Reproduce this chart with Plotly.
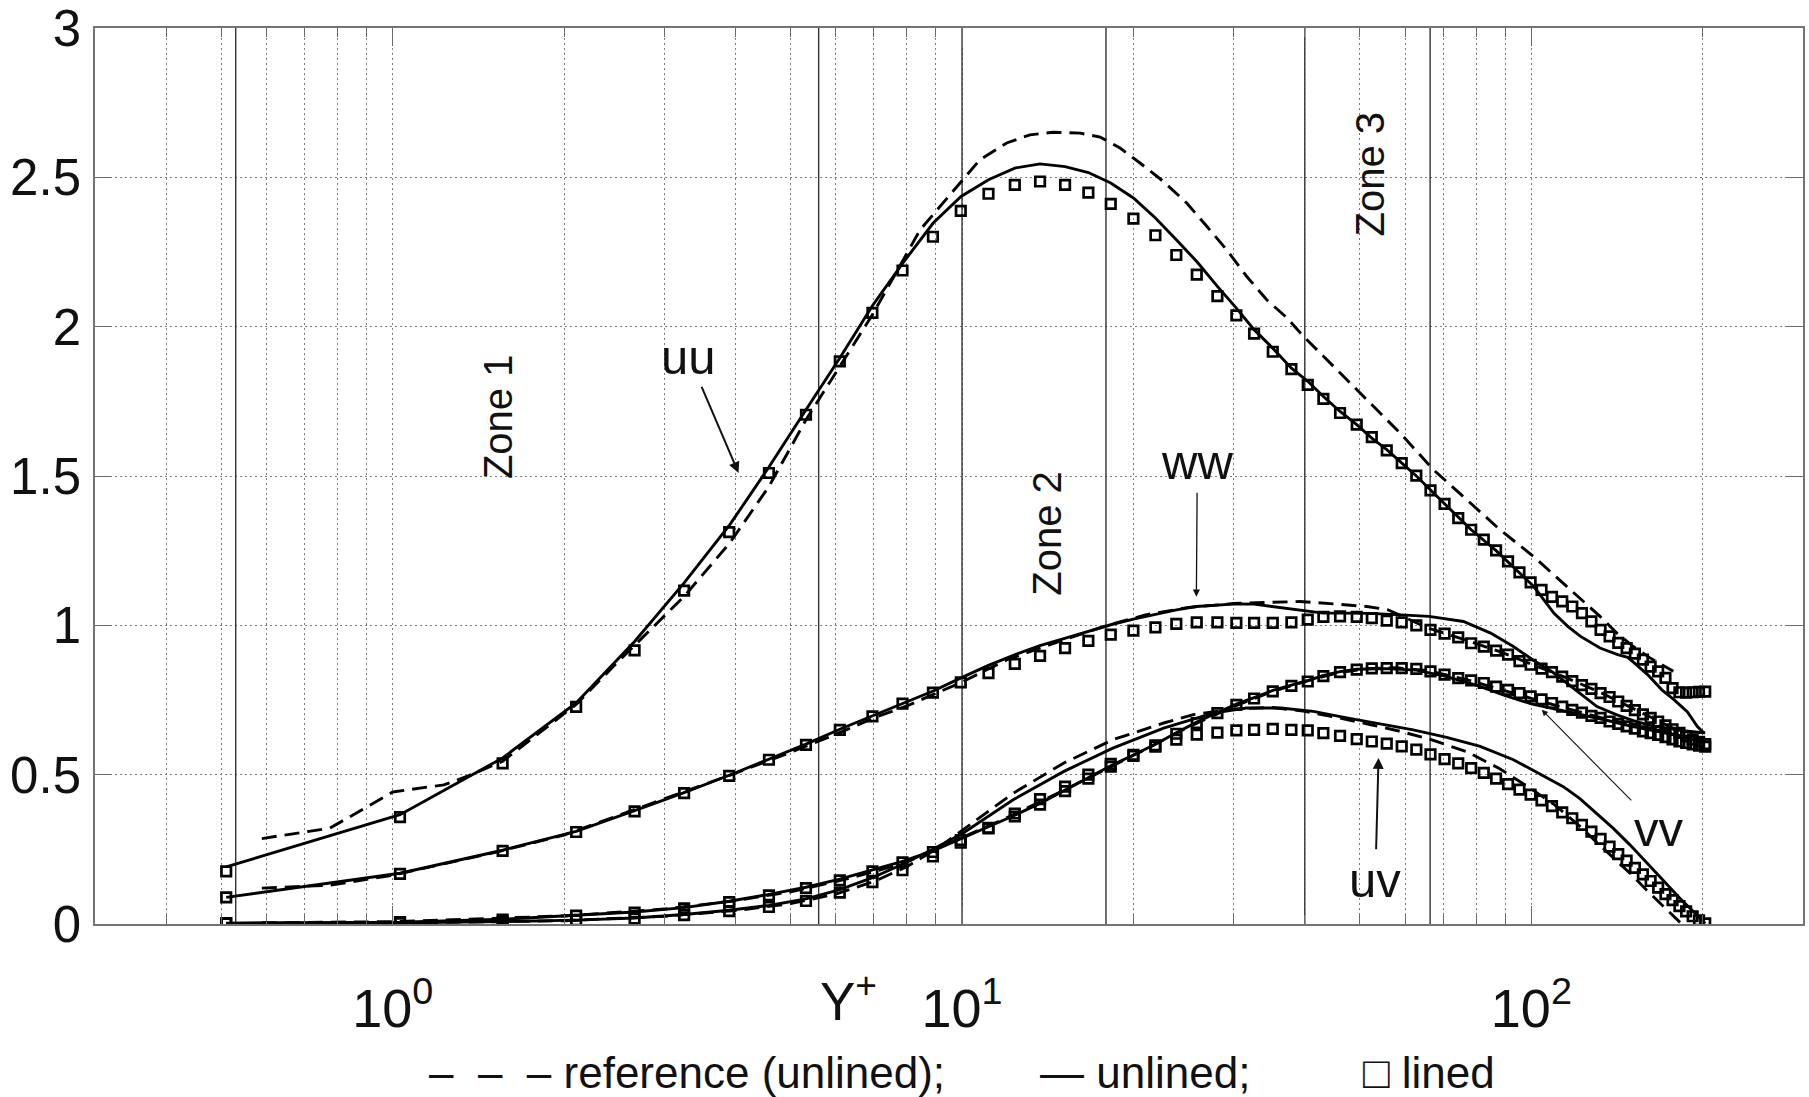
import math
import plotly.graph_objects as go

# ---------------------------------------------------------------------------
# Reynolds-stress profiles in wall units: reference DNS (unlined), unlined
# and lined cases.  rms of u, v, w and the shear stress -uv against y+.
# ---------------------------------------------------------------------------

# grid of the lined case (also drawn as the symbol positions)
yplus_lined = [0.51, 1.03, 1.56, 2.10, 2.66, 3.25, 3.90, 4.58, 5.32, 6.10,
               6.96, 7.86, 8.89, 9.95, 11.13, 12.38, 13.71, 15.17, 16.67, 18.25,
               20.0, 21.86, 23.79, 25.84, 28.09, 30.33, 32.58, 35.14, 37.89, 40.48,
               43.12, 46.13, 49.35, 52.45, 55.72, 59.2, 62.8, 66.5, 70.4, 74.4,
               78.4, 82.5, 86.7, 91.0, 95.3, 99.7, 104.2, 108.7, 113.3, 118.0,
               122.7, 127.5, 132.3, 137.2, 142.1, 147.0, 152.0, 157.0, 162.0, 167.0,
               172.0, 177.0, 182.0, 187.0, 192.0, 197.0, 202.0]

uu_lined = [0.176, 0.358, 0.538, 0.727, 0.916, 1.116, 1.312, 1.510, 1.705, 1.884,
            2.046, 2.188, 2.301, 2.388, 2.445, 2.475, 2.486, 2.475, 2.449, 2.411,
            2.362, 2.306, 2.240, 2.174, 2.102, 2.038, 1.977, 1.916, 1.858, 1.805,
            1.758, 1.711, 1.672, 1.630, 1.586, 1.543, 1.501, 1.452, 1.407, 1.359,
            1.320, 1.287, 1.251, 1.214, 1.177, 1.144, 1.119, 1.095, 1.080, 1.063,
            1.041, 1.013, 0.985, 0.963, 0.941, 0.924, 0.905, 0.885, 0.862, 0.846,
            0.824, 0.790, 0.776, 0.775, 0.776, 0.777, 0.778]

ww_lined = [0.089, 0.168, 0.245, 0.308, 0.377, 0.438, 0.496, 0.550, 0.600, 0.650,
            0.695, 0.738, 0.775, 0.809, 0.840, 0.871, 0.898, 0.924, 0.948, 0.969,
            0.982, 0.993, 1.005, 1.010, 1.010, 1.008, 1.008, 1.008, 1.010, 1.019,
            1.028, 1.030, 1.028, 1.024, 1.016, 1.010, 1.000, 0.985, 0.972, 0.960,
            0.940, 0.929, 0.915, 0.902, 0.880, 0.868, 0.855, 0.843, 0.828, 0.813,
            0.800, 0.787, 0.773, 0.760, 0.745, 0.730, 0.716, 0.702, 0.690, 0.678,
            0.665, 0.652, 0.640, 0.628, 0.618, 0.610, 0.602]

vv_lined = [0.003, 0.006, 0.015, 0.028, 0.038, 0.052, 0.073, 0.096, 0.120, 0.146,
            0.176, 0.206, 0.241, 0.281, 0.322, 0.360, 0.400, 0.445, 0.487, 0.527,
            0.563, 0.598, 0.637, 0.673, 0.706, 0.734, 0.755, 0.779, 0.797, 0.812,
            0.830, 0.843, 0.852, 0.856, 0.857, 0.857, 0.854, 0.846, 0.835, 0.823,
            0.816, 0.807, 0.795, 0.784, 0.773, 0.762, 0.752, 0.740, 0.728, 0.717,
            0.708, 0.697, 0.690, 0.678, 0.670, 0.662, 0.654, 0.645, 0.639, 0.633,
            0.626, 0.618, 0.611, 0.606, 0.601, 0.597, 0.594]

uv_lined = [0.002, 0.003, 0.007, 0.012, 0.018, 0.030, 0.043, 0.057, 0.077, 0.105,
            0.140, 0.180, 0.226, 0.272, 0.320, 0.370, 0.418, 0.460, 0.500, 0.536,
            0.566, 0.594, 0.617, 0.634, 0.641, 0.648, 0.650, 0.653, 0.650, 0.648,
            0.639, 0.630, 0.619, 0.611, 0.604, 0.595, 0.584, 0.568, 0.552, 0.538,
            0.522, 0.506, 0.487, 0.468, 0.450, 0.433, 0.414, 0.395, 0.374, 0.354,
            0.332, 0.309, 0.285, 0.259, 0.234, 0.212, 0.188, 0.166, 0.144, 0.122,
            0.100, 0.080, 0.060, 0.042, 0.026, 0.012, 0.002]

# unlined case (solid lines)
uu_unlined_y = [0.51, 1.03, 1.56, 2.10, 2.66, 3.25, 3.91, 4.58, 5.32, 6.10,
                6.96, 7.87, 8.90, 9.96, 11.13, 12.38, 13.71, 15.17, 16.67, 18.25,
                20.0, 21.86, 23.79, 25.84, 28.09, 30.33, 32.58, 35.14, 37.89, 40.48,
                43.12, 46.13, 49.35, 52.45, 55.72, 62.8, 70.4, 78.4, 86.7, 95.3,
                101.0, 109.5, 116.0, 122.0, 132.0, 141.8, 147.6, 151.6, 160.0, 169.5,
                178.0, 188.0, 195.7, 201.0]
uu_unlined = [0.191, 0.366, 0.556, 0.740, 0.946, 1.142, 1.337, 1.530, 1.722, 1.895,
              2.070, 2.213, 2.347, 2.436, 2.492, 2.531, 2.545, 2.536, 2.516, 2.481,
              2.431, 2.364, 2.291, 2.218, 2.135, 2.062, 1.990, 1.928, 1.861, 1.817,
              1.766, 1.716, 1.672, 1.627, 1.588, 1.500, 1.407, 1.320, 1.250, 1.175,
              1.130, 1.041, 0.996, 0.963, 0.924, 0.902, 0.893, 0.874, 0.835, 0.784,
              0.751, 0.710, 0.661, 0.639]

ww_unlined_y = [0.51, 1.03, 1.56, 2.10, 2.66, 3.25, 3.90, 4.58, 5.32, 6.10,
                6.96, 7.87, 8.90, 9.96, 11.1, 12.4, 13.7, 15.2, 16.7, 18.25,
                20.0, 21.9, 23.8, 25.8, 28.1, 30.3, 32.6, 35.1, 37.9, 40.5,
                43.1, 46.1, 52.0, 58.0, 66.1, 76.0, 84.8, 93.0, 100.8, 109.2,
                115.4, 122.0, 130.4, 141.3, 151.1, 161.6, 172.8, 184.7, 197.6, 202.0]
ww_unlined = [0.089, 0.170, 0.247, 0.310, 0.380, 0.440, 0.498, 0.552, 0.602, 0.652,
              0.697, 0.738, 0.780, 0.824, 0.865, 0.902, 0.932, 0.957, 0.980, 1.002,
              1.021, 1.038, 1.052, 1.063, 1.069, 1.072, 1.071, 1.063, 1.055, 1.047,
              1.041, 1.041, 1.040, 1.036, 1.030, 1.013, 0.974, 0.929, 0.883, 0.842,
              0.807, 0.771, 0.728, 0.700, 0.681, 0.665, 0.656, 0.647, 0.641, 0.640]

vv_unlined_y = [0.51, 1.03, 1.56, 2.10, 2.66, 3.25, 3.90, 4.58, 5.32, 6.10,
                6.96, 7.86, 8.89, 9.95, 11.13, 12.38, 13.71, 15.17, 16.67, 18.25,
                20.0, 21.86, 23.79, 25.84, 28.09, 30.33, 32.58, 35.14, 37.89, 40.48,
                43.12, 46.13, 49.35, 55.72, 62.8, 70.4, 80.0, 90.0, 100.0, 110.0,
                120.0, 135.0, 150.0, 165.0, 180.0, 195.0, 202.0]
vv_unlined = [0.003, 0.006, 0.016, 0.029, 0.040, 0.055, 0.076, 0.099, 0.123, 0.150,
              0.180, 0.210, 0.245, 0.285, 0.325, 0.364, 0.404, 0.448, 0.490, 0.530,
              0.566, 0.602, 0.640, 0.676, 0.708, 0.736, 0.758, 0.782, 0.800, 0.815,
              0.832, 0.845, 0.853, 0.855, 0.850, 0.830, 0.800, 0.765, 0.737, 0.720,
              0.705, 0.683, 0.662, 0.645, 0.632, 0.624, 0.622]

uv_unlined_y = [0.51, 1.03, 1.56, 2.10, 2.66, 3.25, 3.90, 4.58, 5.32, 6.10,
                6.96, 7.86, 8.89, 10.05, 12.3, 15.1, 18.4, 22.6, 27.6, 31.6,
                36.3, 41.4, 47.4, 54.3, 62.0, 71.0, 81.3, 93.0, 102.0, 113.8,
                121.7, 130.3, 139.3, 149.0, 159.5, 170.6, 182.5, 195.3, 202.0]
uv_unlined = [0.002, 0.004, 0.008, 0.013, 0.020, 0.032, 0.046, 0.062, 0.084, 0.115,
              0.155, 0.200, 0.250, 0.305, 0.416, 0.511, 0.589, 0.656, 0.706, 0.723,
              0.723, 0.712, 0.690, 0.670, 0.650, 0.625, 0.595, 0.550, 0.510, 0.460,
              0.420, 0.370, 0.320, 0.265, 0.205, 0.145, 0.085, 0.030, 0.002]

# reference DNS, unlined wall (dashed lines)
uu_ref_y = [0.589, 0.776, 1.0, 1.23, 1.35, 1.56, 2.10, 2.44, 3.25, 3.91,
            4.58, 5.32, 6.10, 6.96, 8.44, 9.03, 9.92, 10.75, 11.98, 13.16,
            14.47, 16.12, 17.48, 18.95, 20.54, 22.58, 24.81, 26.91, 29.17, 31.63,
            34.29, 37.19, 39.8, 42.55, 44.9, 51.4, 58.8, 67.3, 77.0, 88.1,
            100.8, 115.4, 132.0, 141.3, 151.1, 161.6, 177.6]
uu_ref = [0.286, 0.321, 0.442, 0.466, 0.494, 0.545, 0.735, 0.862, 1.097, 1.276,
          1.465, 1.688, 1.867, 2.040, 2.324, 2.391, 2.481, 2.559, 2.615, 2.642,
          2.651, 2.648, 2.635, 2.598, 2.548, 2.486, 2.414, 2.336, 2.257, 2.168,
          2.090, 2.030, 1.967, 1.912, 1.867, 1.755, 1.644, 1.521, 1.420, 1.320,
          1.231, 1.130, 1.030, 0.974, 0.929, 0.891, 0.846]

ww_ref_y = [0.589, 0.776, 1.0, 1.5, 2.0, 3.0, 4.0, 5.0, 6.0, 7.0,
            8.0, 10.0, 12.0, 15.0, 18.0, 21.0, 25.0, 30.0, 36.3, 39.2,
            44.9, 51.4, 56.0, 66.0, 77.0, 88.0, 100.0, 115.0, 132.0, 151.0,
            165.0, 177.6]
ww_ref = [0.120, 0.130, 0.163, 0.238, 0.298, 0.420, 0.505, 0.575, 0.635, 0.690,
          0.730, 0.810, 0.885, 0.950, 1.000, 1.035, 1.060, 1.073, 1.077, 1.080,
          1.072, 1.063, 1.052, 0.990, 0.950, 0.912, 0.870, 0.825, 0.776, 0.722,
          0.685, 0.655]

vv_ref_y = [0.589, 1.0, 2.0, 3.0, 4.0, 5.0, 6.0, 7.0, 8.0, 10.0,
            12.0, 15.0, 18.0, 21.0, 25.0, 30.0, 35.0, 40.0, 46.0, 52.0,
            58.0, 66.0, 77.0, 88.0, 100.0, 115.0, 132.0, 151.0, 165.0, 177.6]
vv_ref = [0.004, 0.008, 0.027, 0.050, 0.078, 0.108, 0.142, 0.175, 0.208, 0.288,
          0.356, 0.445, 0.520, 0.585, 0.660, 0.728, 0.778, 0.812, 0.842, 0.856,
          0.858, 0.848, 0.818, 0.786, 0.755, 0.722, 0.692, 0.665, 0.650, 0.638]

uv_ref_y = [0.589, 1.0, 2.0, 3.0, 4.0, 5.0, 6.0, 7.0, 8.0, 9.0,
            10.05, 12.3, 15.1, 18.4, 22.6, 25.5, 30.0, 35.0, 40.0, 46.0,
            52.0, 58.0, 66.0, 77.0, 88.0, 100.0, 110.0, 121.7, 130.0, 139.3,
            150.0, 159.5, 170.0, 178.0, 183.0]
uv_ref = [0.001, 0.003, 0.011, 0.026, 0.045, 0.068, 0.100, 0.142, 0.192, 0.250,
          0.316, 0.438, 0.539, 0.617, 0.673, 0.701, 0.720, 0.725, 0.712, 0.690,
          0.668, 0.648, 0.620, 0.577, 0.520, 0.452, 0.398, 0.327, 0.275, 0.222,
          0.165, 0.113, 0.062, 0.028, 0.003]

# zone boundaries (y+)
zone_bounds = [0.53, 5.6, 10.0, 17.9, 40.0, 66.4]
zone_labels = ["Zone 1", "Zone 2", "Zone 3"]
zone_label_pos = [(1.53, 1.70), (14.1, 1.31), (52.1, 2.51)]

# axis ticks
x_major = [1, 10, 100]
x_major_text = ["10<sup>0</sup>", "10<sup>1</sup>", "10<sup>2</sup>"]
x_minor = [0.4, 0.5, 0.6, 0.7, 0.8, 0.9, 2, 3, 4, 5, 6, 7, 8, 9,
           20, 30, 40, 50, 60, 70, 80, 90, 200]
y_ticks = [0, 0.5, 1, 1.5, 2, 2.5, 3]
y_tick_text = ["0", "0.5", "1", "1.5", "2", "2.5", "3"]

# curve labels: (text, label x, label y, arrow head x, head y, arrow width)
curve_labels = [
    ("uu", 3.31, 1.90, 4.05, 1.510, 2.0),
    ("ww", 25.9, 1.546, 25.8, 1.096, 1.3),
    ("uv", 53.2, 0.148, 53.9, 0.556, 2.0),
    ("vv", 167.7, 0.319, 104.3, 0.717, 1.1),
]

FONT = "Liberation Sans, Arial, Helvetica, sans-serif"
INK = "#000000"
TXT = "#111111"

fig = go.Figure()

# zone boundary lines
for zb in zone_bounds:
    fig.add_trace(go.Scatter(x=[zb, zb], y=[0, 3], mode="lines",
                             line=dict(color="#333333", width=1.4),
                             showlegend=False, hoverinfo="skip"))

ref_dash = "15px,8px"


def add_curve(x, y, dash):
    fig.add_trace(go.Scatter(x=x, y=y, mode="lines",
                             line=dict(color=INK, width=2.9, dash=dash),
                             showlegend=False, hoverinfo="skip"))


for xs, ys in [(uu_ref_y, uu_ref), (ww_ref_y, ww_ref),
               (vv_ref_y, vv_ref), (uv_ref_y, uv_ref)]:
    add_curve(xs, ys, ref_dash)

for xs, ys in [(uu_unlined_y, uu_unlined), (ww_unlined_y, ww_unlined),
               (vv_unlined_y, vv_unlined), (uv_unlined_y, uv_unlined)]:
    add_curve(xs, ys, "solid")

for ys in [uu_lined, ww_lined, vv_lined, uv_lined]:
    fig.add_trace(go.Scatter(x=yplus_lined, y=ys, mode="markers",
                             marker=dict(symbol="square-open", size=9.5, color=INK,
                                         line=dict(width=2.7, color=INK)),
                             showlegend=False, hoverinfo="skip"))

annotations = []

for name, (zx, zy) in zip(zone_labels, zone_label_pos):
    annotations.append(dict(x=math.log10(zx), y=zy, xref="x", yref="y",
                            text=name, textangle=-90, showarrow=False,
                            font=dict(family=FONT, size=40, color=TXT),
                            xanchor="center", yanchor="middle"))

# each label sits at the arrow tail and points at its curve
for text, lx, ly, hx, hy, w in curve_labels:
    annotations.append(dict(x=math.log10(hx), y=hy,
                            ax=math.log10(lx), ay=ly,
                            xref="x", yref="y", axref="x", ayref="y",
                            text=text, showarrow=True, arrowhead=2,
                            arrowsize=1.1, arrowwidth=w, arrowcolor=TXT,
                            standoff=0, startstandoff=2,
                            font=dict(family=FONT, size=49, color=TXT)))

# axis title
annotations.append(dict(x=math.log10(6.33), y=-0.082, xref="x", yref="paper",
                        text="Y<sup>+</sup>", showarrow=False,
                        font=dict(family=FONT, size=53, color=TXT),
                        xanchor="center", yanchor="middle"))

# key to the line styles
nb = "\u00a0"
key_items = [("\u2013" + nb * 2 + "\u2013" + nb * 2 + "\u2013 reference (unlined);", 0.1942),
             ("\u2014 unlined;", 0.552),
             ("\u25a1 lined", 0.7412)]
for text, kx in key_items:
    annotations.append(dict(x=kx, y=-0.166, xref="paper", yref="paper",
                            text=text, showarrow=False,
                            font=dict(family=FONT, size=44, color=TXT),
                            xanchor="left", yanchor="middle"))

fig.update_layout(
    width=1809, height=1097,
    margin=dict(l=95, r=6, t=28, b=173, autoexpand=False),
    paper_bgcolor="white", plot_bgcolor="white",
    showlegend=False,
    annotations=annotations,
    font=dict(family=FONT, color=TXT),
)

grid_dash = "1.5px,3.5px"
grid_col = "#7c7c7c"

fig.update_xaxes(
    type="log", range=[math.log10(0.3), math.log10(300)],
    tickmode="array", tickvals=x_major, ticktext=x_major_text,
    tickfont=dict(family=FONT, size=54, color=TXT),
    ticks="inside", ticklen=18, tickwidth=1.3, tickcolor="#6a6a6a",
    ticklabelstandoff=36, ticklabeloverflow="allow", automargin=False,
    showline=True, linecolor="#737373", linewidth=1.6, mirror="ticks",
    showgrid=True, gridcolor=grid_col, gridwidth=1, griddash=grid_dash,
    zeroline=False,
    minor=dict(tickmode="array", tickvals=x_minor, ticks="inside", ticklen=9,
               tickwidth=1.2, tickcolor="#6a6a6a", showgrid=True,
               gridcolor=grid_col, gridwidth=1, griddash=grid_dash),
)

fig.update_yaxes(
    range=[0, 3], tickmode="array", tickvals=y_ticks, ticktext=y_tick_text,
    tickfont=dict(family=FONT, size=51, color=TXT),
    ticks="inside", ticklen=16, tickwidth=1.3, tickcolor="#6a6a6a",
    ticklabelstandoff=2, ticklabeloverflow="allow", automargin=False,
    showline=True, linecolor="#737373", linewidth=1.6, mirror="ticks",
    showgrid=True, gridcolor=grid_col, gridwidth=1, griddash=grid_dash,
    zeroline=False,
)

fig.write_html("out.html")
